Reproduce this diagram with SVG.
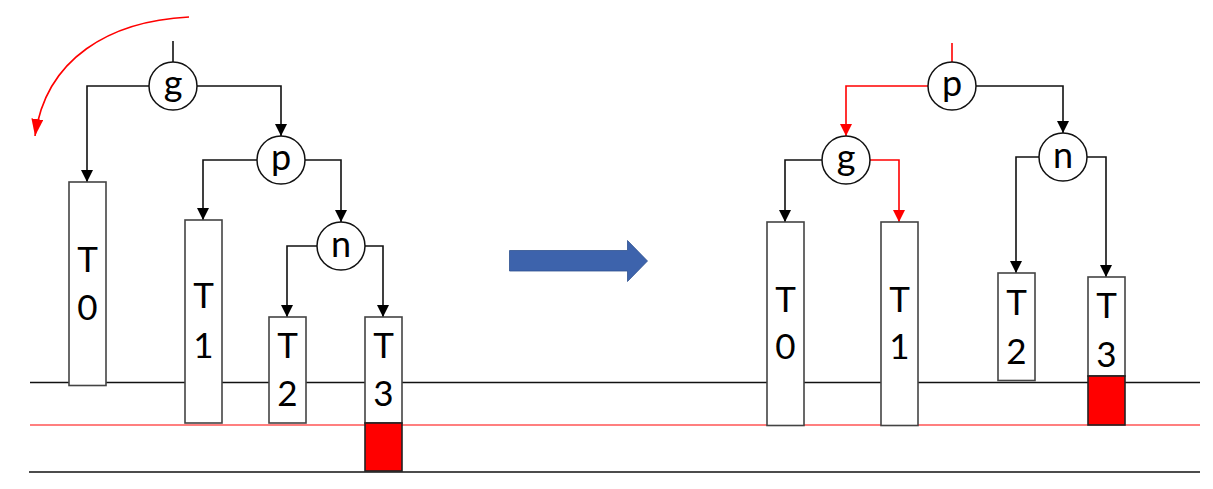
<svg xmlns="http://www.w3.org/2000/svg" width="1213" height="489" viewBox="0 0 1213 489">
<defs>
<marker id="ab" viewBox="0 0 10 10" refX="10" refY="5" markerWidth="12" markerHeight="12" markerUnits="userSpaceOnUse" orient="auto"><path d="M0,0 L10,5 L0,10 Z" fill="#000"/></marker>
<marker id="ar" viewBox="0 0 10 10" refX="10" refY="5" markerWidth="12" markerHeight="12" markerUnits="userSpaceOnUse" orient="auto"><path d="M0,0 L10,5 L0,10 Z" fill="#f00"/></marker>
<marker id="arc" viewBox="0 0 10 10" refX="10" refY="5" markerWidth="17" markerHeight="12" markerUnits="userSpaceOnUse" orient="auto" preserveAspectRatio="none"><path d="M0,0 L10,5 L0,10 Z" fill="#f00"/></marker>
<style>
.c{fill:none;stroke:#111;stroke-width:1.6}
.cr{fill:none;stroke:#f00;stroke-width:1.6}
.box{fill:#fff;stroke:#444;stroke-width:1.6}
.red{fill:#f00;stroke:#222;stroke-width:1.6}
.node{fill:#fff;stroke:#111;stroke-width:1.5}
.t{font-family:Lato,"Liberation Sans",sans-serif;font-size:35px;fill:#000;text-anchor:middle}
.n{font-family:Lato,"Liberation Sans",sans-serif;font-size:36px;fill:#000;text-anchor:middle}
.hl{stroke:#111;stroke-width:1.6}
</style>
</defs>
<rect width="1213" height="489" fill="#fff"/>
<g id="lines">
<line class="hl" x1="30" y1="382.5" x2="1200" y2="382.5"/>
<line x1="30" y1="425" x2="1200" y2="425" stroke="#f00" stroke-width="1.2"/>
<line class="hl" x1="29" y1="472" x2="1200" y2="472"/>
</g>
<g id="connectors">
<path class="c" d="M173,41 V62"/>
<path class="c" d="M149,86 H87 V182" marker-end="url(#ab)"/>
<path class="c" d="M197,86 H281 V136" marker-end="url(#ab)"/>
<path class="c" d="M257,160 H203 V220" marker-end="url(#ab)"/>
<path class="c" d="M305,160 H341 V222" marker-end="url(#ab)"/>
<path class="c" d="M317,246 H287 V317" marker-end="url(#ab)"/>
<path class="c" d="M365,246 H383 V317" marker-end="url(#ab)"/>
<path class="cr" d="M189,17 C110,21 46,58 35,136" marker-end="url(#arc)"/>
<path class="cr" d="M952,43 V62"/>
<path class="cr" d="M928,86 H846 V136" marker-end="url(#ar)"/>
<path class="c" d="M976,86 H1063 V133" marker-end="url(#ab)"/>
<path class="c" d="M822,160 H785 V222" marker-end="url(#ab)"/>
<path class="cr" d="M870,160 H899 V222" marker-end="url(#ar)"/>
<path class="c" d="M1039,157 H1016 V273" marker-end="url(#ab)"/>
<path class="c" d="M1087,157 H1106 V277" marker-end="url(#ab)"/>
</g>
<g id="L_g"><circle class="node" cx="173" cy="86" r="24"/><text class="n" x="173" y="96">g</text></g>
<g id="L_p"><circle class="node" cx="281" cy="160" r="24"/><text class="n" x="281" y="170">p</text></g>
<g id="L_n"><circle class="node" cx="341" cy="246" r="24"/><text class="n" x="341" y="257">n</text></g>
<g id="L_T0"><rect class="box" x="69" y="182" width="37" height="203.5"/><text class="t" x="87.5" y="272">T</text><text class="t" x="87.5" y="320">0</text></g>
<g id="L_T1"><rect class="box" x="185" y="220" width="37" height="203"/><text class="t" x="203.5" y="308">T</text><text class="t" x="203.5" y="358">1</text></g>
<g id="L_T2"><rect class="box" x="269" y="317" width="37" height="106"/><text class="t" x="287.5" y="358">T</text><text class="t" x="287.5" y="406">2</text></g>
<g id="L_T3"><rect class="box" x="365" y="317" width="37" height="106"/><rect class="red" x="365" y="423" width="37" height="48"/><text class="t" x="383.5" y="358">T</text><text class="t" x="383.5" y="406">3</text></g>
<g id="arrow"><path d="M509.5,250.5 H627.5 V240.5 L647.5,261 L627.5,281.5 V271 H509.5 Z" fill="#3D63AC" stroke="#2F528F" stroke-width="0.8"/></g>
<g id="R_p"><circle class="node" cx="952" cy="86" r="24"/><text class="n" x="952" y="96">p</text></g>
<g id="R_g"><circle class="node" cx="846" cy="160" r="24"/><text class="n" x="846" y="170">g</text></g>
<g id="R_n"><circle class="node" cx="1063" cy="157" r="24"/><text class="n" x="1063" y="168">n</text></g>
<g id="R_T0"><rect class="box" x="767" y="222" width="37" height="203.5"/><text class="t" x="785.5" y="312">T</text><text class="t" x="785.5" y="359">0</text></g>
<g id="R_T1"><rect class="box" x="881" y="222" width="37" height="203.5"/><text class="t" x="899.5" y="312">T</text><text class="t" x="899.5" y="359">1</text></g>
<g id="R_T2"><rect class="box" x="998" y="273" width="37" height="107.5"/><text class="t" x="1016.5" y="315">T</text><text class="t" x="1016.5" y="364">2</text></g>
<g id="R_T3"><rect class="box" x="1088" y="277" width="37" height="99"/><rect class="red" x="1088" y="376" width="37" height="49"/><text class="t" x="1106.5" y="318">T</text><text class="t" x="1106.5" y="367">3</text></g>
</svg>
